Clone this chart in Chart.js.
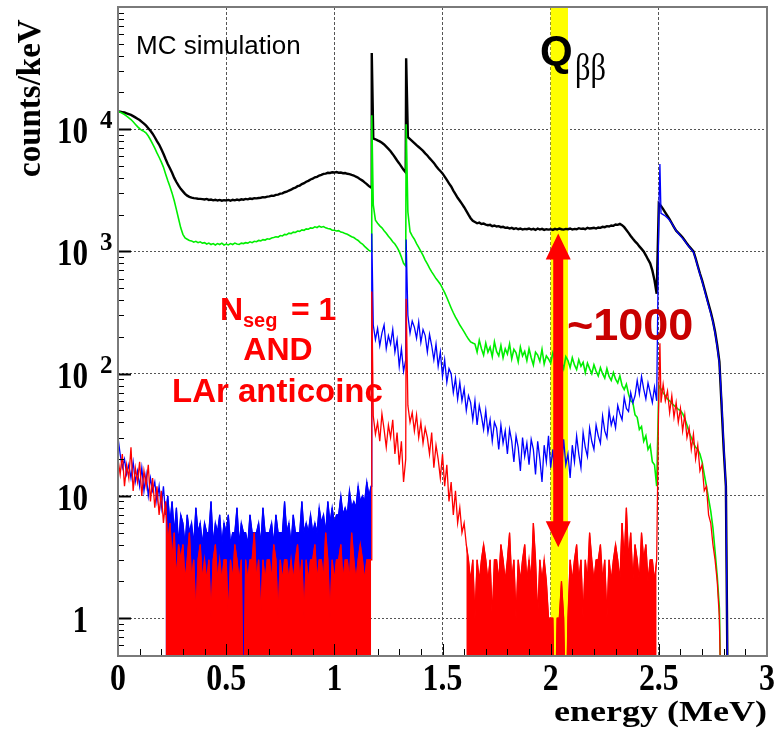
<!DOCTYPE html>
<html>
<head>
<meta charset="utf-8">
<script src="https://cdn.jsdelivr.net/npm/chart.js@4.4.1/dist/chart.umd.min.js"></script>
<style>
  html, body { margin: 0; padding: 0; background: #fff; }
  #wrap { width: 775px; height: 735px; }
</style>
</head>
<body>
<div id="wrap"><canvas id="spec" width="775" height="735"></canvas></div>
<script>
// MC spectra in counts/keV, one value per 10 keV bin from 0 to 3 MeV
const BIN_MEV = 0.01;

const black = [
  14000, 13900, 13800, 13700, 13500, 13300, 13100, 12800, 12500, 12200,
  11900, 11500, 11100, 10700, 10200, 9700, 9200, 8600, 8000, 7500,
  6900, 6300, 5700, 5200, 4800, 4400, 4000, 3700, 3450, 3250,
  3100, 2960, 2860, 2800, 2760, 2730, 2720, 2700, 2690, 2680,
  2660, 2690, 2640, 2660, 2620, 2650, 2610, 2640, 2600, 2630,
  2610, 2640, 2600, 2650, 2620, 2660, 2630, 2670, 2650, 2690,
  2670, 2710, 2690, 2730, 2720, 2740, 2750, 2780, 2770, 2810,
  2820, 2860, 2850, 2900, 2920, 2970, 2990, 3050, 3080, 3150,
  3200, 3280, 3320, 3420, 3460, 3560, 3620, 3720, 3780, 3880,
  3940, 4040, 4080, 4180, 4230, 4310, 4330, 4400, 4390, 4440,
  4420, 4460, 4410, 4420, 4370, 4380, 4320, 4290, 4230, 4180,
  4090, 4010, 3890, 3800, 3670, 3560, 3420, 3330, 8400, 8280,
  8100, 7950, 7750, 7500, 7200, 6900, 6600, 6250, 5900, 5550,
  5250, 4950, 4650, 4430, 8600, 8300, 8000, 7700, 7400, 7150,
  6900, 6650, 6350, 6100, 5800, 5550, 5300, 5000, 4750, 4550,
  4350, 4100, 3850, 3600, 3400, 3150, 2950, 2750, 2600, 2450,
  2300, 2150, 2000, 1870, 1780, 1740, 1700, 1720, 1680, 1690,
  1660, 1640, 1650, 1610, 1630, 1600, 1610, 1580, 1590, 1560,
  1570, 1540, 1560, 1530, 1550, 1520, 1540, 1510, 1530, 1520,
  1540, 1510, 1530, 1500, 1540, 1510, 1530, 1500, 1520, 1510,
  1520, 1500, 1530, 1510, 1540, 1520, 1510, 1530, 1520, 1540,
  1510, 1530, 1520, 1550, 1530, 1540, 1520, 1560, 1540, 1550,
  1560, 1540, 1570, 1560, 1590, 1580, 1610, 1600, 1630, 1620,
  1660, 1650, 1680, 1640, 1580, 1500, 1420, 1340, 1270, 1210,
  1160, 1100, 1050, 1000, 930, 860, 800, 700, 580, 450,
  2460, 2350, 2220, 2080, 1950, 1830, 1700, 1580, 1480, 1420,
  1360, 1300, 1230, 1160, 1100, 1050, 1000, 880, 760, 660,
  580, 500, 430, 370, 320, 270, 220, 170, 125, 55,
  24, 12, 0, 0, 0, 0, 0, 0, 0, 0,
  0, 0, 0, 0, 0, 0, 0, 0, 0, 0,
  0
];

const green = [
  14000, 13800, 13500, 13200, 12800, 12400, 12000, 11500, 11000, 10500,
  10100, 9800, 9600, 9300, 8800, 8200, 7600, 7000, 6400, 5900,
  5400, 4900, 4300, 3800, 3400, 3000, 2600, 2200, 1850, 1560,
  1380, 1290, 1260, 1230, 1220, 1190, 1210, 1180, 1200, 1170,
  1180, 1150, 1170, 1140, 1160, 1130, 1160, 1140, 1170, 1130,
  1150, 1130, 1160, 1140, 1170, 1150, 1140, 1170, 1160, 1180,
  1170, 1200, 1180, 1210, 1200, 1230, 1220, 1250, 1240, 1270,
  1260, 1290, 1300, 1320, 1310, 1350, 1340, 1380, 1370, 1410,
  1400, 1440, 1430, 1470, 1460, 1500, 1490, 1530, 1520, 1560,
  1550, 1590, 1570, 1610, 1580, 1600, 1560, 1540, 1530, 1490,
  1490, 1470, 1480, 1440, 1430, 1400, 1380, 1350, 1320, 1300,
  1260, 1230, 1180, 1150, 1100, 1060, 1020, 1000, 2400, 1800,
  1700, 1620, 1560, 1480, 1410, 1330, 1270, 1200, 1150, 1080,
  1000, 900, 800, 760, 2100, 1450, 1340, 1260, 1160, 1080,
  1000, 930, 850, 790, 730, 680, 640, 600, 570, 540,
  500, 460, 420, 380, 345, 315, 290, 270, 250, 235,
  220, 205, 192, 182, 178, 175, 150, 188, 160, 142,
  178, 150, 165, 138, 182, 152, 140, 170, 135, 160,
  145, 175, 132, 158, 148, 125, 165, 140, 152, 128,
  160, 135, 118, 150, 142, 126, 158, 120, 140, 132,
  122, 148, 130, 115, 142, 125, 110, 138, 128, 112,
  135, 118, 108, 130, 115, 124, 102, 122, 110, 100,
  118, 105, 96, 112, 100, 92, 110, 95, 88, 102,
  90, 84, 96, 80, 74, 82, 68, 60, 58, 46,
  44, 35, 37, 28, 31, 24, 26, 19, 18, 12,
  80, 75, 70, 66, 62, 60, 57, 55, 53, 51,
  50, 47, 43, 38, 33, 30, 27, 25, 24, 22,
  19, 15, 12, 9.5, 7.5, 5.5, 3.5, 2.2, 1.2, 0,
  0, 0, 0, 0, 0, 0, 0, 0, 0, 0,
  0, 0, 0, 0, 0, 0, 0, 0, 0, 0,
  0
];

const blue = [
  30, 22, 17, 20, 15, 18, 14, 19, 13, 16,
  12, 17, 11, 15, 10, 14, 11, 13, 9, 12,
  8, 12, 7, 10, 6, 9, 5, 8, 4, 7,
  6, 4, 7, 5, 6, 4, 8, 5, 6, 4,
  6, 5, 5, 9, 4, 6, 5, 7, 4, 6,
  5, 7, 4, 5, 5, 8, 4, 6, 5, 5,
  4, 7, 5, 5, 5, 6, 4, 8, 5, 5,
  5, 6, 4, 7, 5, 5, 5, 9, 5, 6,
  4, 7, 5, 5, 5, 9, 5, 6, 5, 7,
  5, 6, 5, 8, 6, 7, 5, 9, 6, 8,
  6, 7, 7, 10, 7, 8, 7, 11, 8, 9,
  8, 12, 9, 10, 9, 13, 10, 12, 250, 190,
  235, 170, 215, 250, 160, 205, 175, 230, 150, 190,
  115, 160, 105, 130, 300, 215, 270, 240, 195, 265,
  180, 230, 205, 150, 210, 170, 130, 175, 115, 150,
  95, 130, 85, 110, 100, 70, 92, 62, 85, 60,
  75, 50, 66, 58, 42, 60, 38, 55, 45, 35,
  50, 33, 42, 28, 40, 36, 24, 38, 27, 34,
  22, 35, 28, 19, 31, 25, 16, 30, 21, 27,
  18, 29, 24, 15, 28, 20, 13, 26, 19, 31,
  17, 24, 14, 27, 20, 16, 29, 18, 22, 14,
  26, 19, 31, 22, 17, 33, 25, 21, 36, 28,
  24, 38, 31, 27, 45, 34, 30, 50, 38, 44,
  36, 55, 47, 42, 64, 52, 49, 70, 58, 66,
  88, 68, 95, 75, 62, 84, 70, 58, 78, 60,
  2050, 2050, 2000, 1950, 1880, 1800, 1700, 1580, 1480, 1410,
  1340, 1280, 1220, 1150, 1090, 1040, 990, 870, 750, 650,
  570, 490, 420, 360, 310, 265, 215, 165, 120, 62,
  26, 12, 0, 0, 0, 0, 0, 0, 0, 0,
  0, 0, 0, 0, 0, 0, 0, 0, 0, 0,
  0
];

const red = [
  20, 15, 22, 12, 18, 14, 25, 11, 17, 13,
  19, 10, 16, 12, 18, 9, 14, 8, 12, 7,
  11, 6, 9, 4, 6, 3, 5, 2, 4, 3,
  4, 2, 3, 5, 2, 3, 1, 3, 4, 2,
  3, 2, 3, 1, 3, 4, 2, 3, 2, 3,
  3, 1, 3, 2, 4, 3, 2, 3, 0, 3,
  2, 3, 3, 5, 2, 3, 1, 3, 2, 3,
  3, 2, 4, 3, 1, 3, 2, 3, 3, 2,
  3, 2, 3, 4, 2, 3, 1, 3, 2, 3,
  3, 4, 2, 3, 3, 2, 5, 3, 1, 3,
  2, 3, 3, 4, 2, 3, 3, 2, 5, 3,
  2, 3, 4, 3, 2, 3, 3, 3, 45, 32,
  40, 28, 47, 35, 25, 38, 30, 42, 22, 33,
  18, 28, 13, 20, 55, 40, 48, 34, 46, 30,
  40, 27, 36, 30, 22, 33, 17, 26, 20, 14,
  22, 12, 18, 9, 13, 7, 11, 6, 8, 5,
  6, 4, 3, 2, 3, 1, 3, 2, 3, 4,
  3, 2, 3, 1, 3, 3, 2, 4, 3, 2,
  3, 5, 2, 3, 1, 3, 2, 3, 4, 2,
  3, 2, 6, 3, 1, 3, 2, 3, 2, 1,
  1, 1, 0, 1, 1, 2, 1, 0, 1, 3,
  2, 3, 4, 2, 3, 1, 3, 2, 5, 3,
  2, 3, 3, 4, 2, 3, 1, 3, 2, 3,
  4, 3, 2, 6, 3, 8, 3, 5, 2, 4,
  3, 2, 5, 3, 4, 2, 3, 3, 2, 3,
  75, 58, 82, 60, 72, 48, 66, 44, 58, 40,
  52, 34, 46, 30, 36, 24, 32, 20, 26, 16,
  18, 11, 12, 7, 6, 4, 3, 2, 1, 0,
  0, 0, 0, 0, 0, 0, 0, 0, 0, 0,
  0, 0, 0, 0, 0, 0, 0, 0, 0, 0,
  0
];

// gamma lines: one narrow peak per series (null = no peak)
const PEAK_MEV = [1.173, 1.332, 2.505];
const blackPeaks = [42000, 38000, null];
const greenPeaks = [13000, 11000, null];
const bluePeaks = [1400, 1250, 5200];
const redPeaks = [470, 410, 177];

// energy ranges (MeV) where the low-count histograms are a solid noise band
const RED_BAND = [[0.22, 1.17], [1.61, 2.49]];
const BLUE_BAND = [[0.22, 1.17]];

const X_TICKS = [0, 0.5, 1, 1.5, 2, 2.5, 3];
const X_LABELS = ['0', '0.5', '1', '1.5', '2', '2.5', '3'];
const Y_TICKS = [1, 10, 100, 1000, 10000];
const Y_LABELS = [['1', ''], ['10', ''], ['10', '2'], ['10', '3'], ['10', '4']];

const QBB_BAND = [2.0, 2.08];
const ARROW = { x: 2.035, top: 1400, bottom: 3.8 };

const SERIF = '"Liberation Serif", "Times New Roman", serif';
const SANS = '"Liberation Sans", Arial, sans-serif';
const EMPTY_BIN = 0.1; // zero counts, drawn below the axis on a log scale

function points(values, peaks, ranges) {
  const pts = values.map((v, i) => ({ x: i * BIN_MEV, y: v }));
  if (peaks) peaks.forEach((p, k) => { if (p) pts.push({ x: PEAK_MEV[k], y: p }); });
  pts.sort((a, b) => a.x - b.x);
  return pts.map(({ x, y }) => {
    const keep = !ranges || ranges.some(([a, b]) => x >= a - 1e-6 && x <= b + 1e-6);
    return { x, y: keep ? (y > 0 ? y : EMPTY_BIN) : null };
  });
}

function text(ctx, str, px, py, font, opts = {}) {
  ctx.save();
  ctx.translate(px, py);
  if (opts.rotate) ctx.rotate(opts.rotate);
  ctx.scale(opts.sx || 1, 1);
  ctx.font = font;
  ctx.fillStyle = opts.color || '#000';
  ctx.textAlign = opts.align || 'left';
  ctx.textBaseline = 'alphabetic';
  ctx.fillText(str, 0, 0);
  ctx.restore();
}

const plotDecor = {
  id: 'plotDecor',
  beforeDatasetsDraw(chart) {
    const { ctx, chartArea: area, scales: { x } } = chart;
    const left = x.getPixelForValue(QBB_BAND[0]);
    const right = x.getPixelForValue(QBB_BAND[1]);
    ctx.save();
    ctx.fillStyle = '#ffff00';
    ctx.fillRect(left, area.top, right - left, area.bottom - area.top);
    ctx.restore();
  },
  afterDatasetsDraw(chart) {
    const { ctx, scales: { x, y } } = chart;

    // double arrow at Qbb
    const ax = x.getPixelForValue(ARROW.x);
    const yt = y.getPixelForValue(ARROW.top);
    const yb = y.getPixelForValue(ARROW.bottom);
    const head = 26, half = 12.5, shaft = 5;
    ctx.save();
    ctx.fillStyle = '#ff0000';
    ctx.beginPath();
    ctx.moveTo(ax, yt);
    ctx.lineTo(ax + half, yt + head);
    ctx.lineTo(ax + shaft, yt + head);
    ctx.lineTo(ax + shaft, yb - head);
    ctx.lineTo(ax + half, yb - head);
    ctx.lineTo(ax, yb);
    ctx.lineTo(ax - half, yb - head);
    ctx.lineTo(ax - shaft, yb - head);
    ctx.lineTo(ax - shaft, yt + head);
    ctx.lineTo(ax - half, yt + head);
    ctx.closePath();
    ctx.fill();
    ctx.restore();

    text(ctx, 'MC simulation', 136, 54, `26px ${SANS}`);
    text(ctx, 'Q', 540, 65, `bold 42px ${SANS}`);
    text(ctx, 'ββ', 575, 80, `38px ${SERIF}`, { sx: 0.8 });

    const RED = '#ff0000';
    text(ctx, 'N', 220, 320, `bold 32px ${SANS}`, { color: RED });
    text(ctx, 'seg', 243, 327, `bold 20px ${SANS}`, { color: RED });
    text(ctx, '= 1', 291, 320, `bold 32px ${SANS}`, { color: RED });
    text(ctx, 'AND', 278, 360, `bold 32px ${SANS}`, { color: RED, align: 'center' });
    text(ctx, 'LAr anticoinc', 172, 402, `bold 33px ${SANS}`, { color: RED });
    text(ctx, '~1000', 567, 340, `bold 45px ${SANS}`, { color: '#c80000' });
  },
  afterDraw(chart) {
    const { ctx, chartArea: area, scales: { x, y } } = chart;
    ctx.save();

    // ticks inside the frame
    ctx.strokeStyle = '#000';
    for (let d = -1; d <= 4; d++) {
      for (let k = 1; k <= 9; k++) {
        const v = k * Math.pow(10, d);
        if (v < y.min || v > y.max) continue;
        const py = Math.round(y.getPixelForValue(v)) + 0.5;
        ctx.lineWidth = k === 1 ? 2 : 1;
        ctx.beginPath();
        ctx.moveTo(area.left, py);
        ctx.lineTo(area.left + (k === 1 ? 13 : 6), py);
        ctx.stroke();
      }
    }
    ctx.lineWidth = 1;
    for (let i = 1; i < 30; i++) {
      const px = Math.round(x.getPixelForValue(i / 10)) + 0.5;
      const len = i % 5 === 0 ? 12 : 7;
      ctx.beginPath();
      ctx.moveTo(px, area.bottom);
      ctx.lineTo(px, area.bottom - len);
      ctx.stroke();
    }

    // frame
    ctx.strokeStyle = '#7a7a7a';
    ctx.lineWidth = 2;
    ctx.strokeRect(area.left, area.top, area.right - area.left, area.bottom - area.top);
    ctx.restore();

    // tick labels
    Y_TICKS.forEach((v, i) => {
      const gy = y.getPixelForValue(v);
      const [base, exp] = Y_LABELS[i];
      text(ctx, base, 88, gy + 14, `bold 37px ${SERIF}`, { align: 'right', sx: 0.84 });
      if (exp) text(ctx, exp, 100, gy - 1, `bold 25px ${SERIF}`);
    });
    X_TICKS.forEach((v, i) => {
      text(ctx, X_LABELS[i], x.getPixelForValue(v), 690, `bold 37px ${SERIF}`, { align: 'center', sx: 0.86 });
    });

    // axis titles
    text(ctx, 'counts/keV', 40, 177, `bold 33px ${SERIF}`, { rotate: -Math.PI / 2 });
    text(ctx, 'energy (MeV)', 767, 721, `bold 30px ${SERIF}`, { align: 'right', sx: 1.2 });
  }
};

const common = { pointRadius: 0, fill: false };

new Chart(document.getElementById('spec'), {
  type: 'line',
  data: {
    datasets: [
      { ...common, data: points(red, redPeaks), borderColor: '#ff0000', borderWidth: 1.3 },
      { ...common, data: points(red, null, RED_BAND), borderColor: '#ff0000', backgroundColor: '#ff0000', borderWidth: 1, fill: 'start' },
      { ...common, data: points(blue, bluePeaks), borderColor: '#0000ff', borderWidth: 1.3 },
      { ...common, data: points(blue, null, BLUE_BAND), borderColor: '#0000ff', backgroundColor: '#0000ff', borderWidth: 1, fill: 'start' },
      { ...common, data: points(green, greenPeaks), borderColor: '#00ee00', borderWidth: 1.6 },
      { ...common, data: points(black, blackPeaks), borderColor: '#000000', borderWidth: 2.4 },
    ],
  },
  options: {
    responsive: false,
    animation: false,
    devicePixelRatio: 1,
    events: [],
    layout: { padding: { left: 118, top: 7, right: 8, bottom: 79 } },
    plugins: { legend: { display: false }, tooltip: { enabled: false } },
    scales: {
      x: {
        type: 'linear',
        min: 0,
        max: 3,
        afterBuildTicks: (s) => { s.ticks = X_TICKS.map(v => ({ value: v })); },
        ticks: { display: false },
        grid: { color: '#555', lineWidth: 1, drawTicks: false },
        border: { display: false, dash: [3, 2] },
      },
      y: {
        type: 'logarithmic',
        min: 0.49,
        max: 100000,
        afterBuildTicks: (s) => { s.ticks = Y_TICKS.map(v => ({ value: v })); },
        ticks: { display: false },
        grid: { color: '#555', lineWidth: 1, drawTicks: false },
        border: { display: false, dash: [2, 2] },
      },
    },
  },
  plugins: [plotDecor],
});
</script>
</body>
</html>
